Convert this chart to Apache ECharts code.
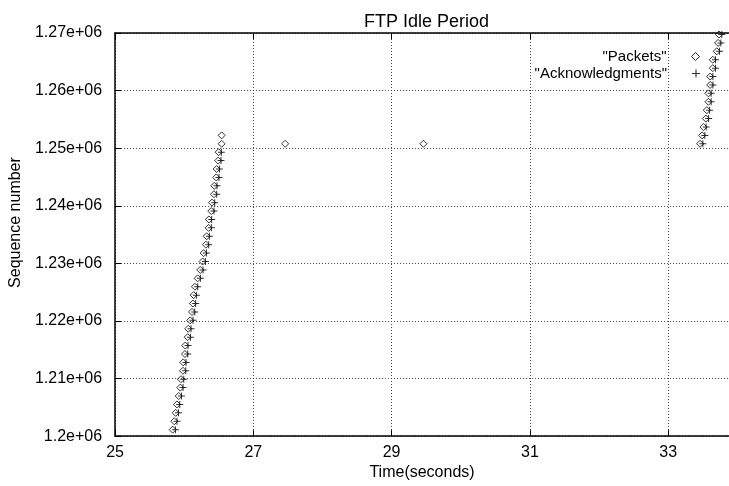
<!DOCTYPE html>
<html>
<head>
<meta charset="utf-8">
<script src="https://cdn.jsdelivr.net/npm/echarts@6/dist/echarts.min.js"></script>
<style>
html,body{margin:0;padding:0;background:#fff;}
#c{width:729px;height:486px;}
</style>
</head>
<body>
<div id="c"></div>
<script>
var titleText = 'FTP Idle Period';
var xName = 'Time(seconds)';
var yName = 'Sequence number';
var packetsName = '"Packets"';
var acksName = '"Acknowledgments"';

var xTicks = [25, 27, 29, 31, 33];
var yTicks = [1200000, 1210000, 1220000, 1230000, 1240000, 1250000, 1260000, 1270000];

// Packets: first burst
var pktTimeA = [25.833, 25.856, 25.877, 25.895, 25.920, 25.943, 25.953, 25.982, 25.986, 26.011,
  26.015, 26.050, 26.058, 26.087, 26.112, 26.126, 26.136, 26.155, 26.194, 26.232,
  26.266, 26.281, 26.314, 26.324, 26.353, 26.357, 26.391, 26.401, 26.430, 26.434,
  26.463, 26.469, 26.492, 26.497, 26.541, 26.541];
var pktSeqA = [1201120, 1202580, 1204040, 1205500, 1206960, 1208420, 1209880, 1211340, 1212800, 1214260,
  1215720, 1217180, 1218640, 1220100, 1221560, 1223020, 1224480, 1225940, 1227400, 1228860,
  1230320, 1231780, 1233240, 1234700, 1236160, 1237620, 1239080, 1240540, 1242000, 1243460,
  1244920, 1246380, 1247840, 1249300, 1250760, 1252220];
// Packets: retransmissions during idle period
var pktTimeR = [27.46, 29.46];
var pktSeqR = [1250760, 1250760];
// Packets: second burst
var pktTimeB = [33.462, 33.491, 33.510, 33.545, 33.559, 33.582, 33.582, 33.607, 33.607, 33.645,
  33.645, 33.703, 33.722, 33.736];
var pktSeqB = [1250760, 1252220, 1253680, 1255140, 1256600, 1258060, 1259520, 1260980, 1262440, 1263900,
  1265360, 1266820, 1268280, 1269740];

// Acknowledgments
var ackTimeA = [25.873, 25.896, 25.917, 25.935, 25.960, 25.983, 25.993, 26.022, 26.026, 26.051,
  26.055, 26.090, 26.098, 26.127, 26.152, 26.166, 26.176, 26.195, 26.234, 26.272,
  26.306, 26.321, 26.354, 26.364, 26.393, 26.397, 26.431, 26.441, 26.470, 26.474,
  26.503, 26.509, 26.532, 26.537];
var ackSeqA = [1201120, 1202580, 1204040, 1205500, 1206960, 1208420, 1209880, 1211340, 1212800, 1214260,
  1215720, 1217180, 1218640, 1220100, 1221560, 1223020, 1224480, 1225940, 1227400, 1228860,
  1230320, 1231780, 1233240, 1234700, 1236160, 1237620, 1239080, 1240540, 1242000, 1243460,
  1244920, 1246380, 1247840, 1249300];
var ackTimeB = [33.502, 33.531, 33.550, 33.585, 33.599, 33.622, 33.622, 33.647, 33.647, 33.685,
  33.685, 33.743, 33.762, 33.776];
var ackSeqB = [1250760, 1252220, 1253680, 1255140, 1256600, 1258060, 1259520, 1260980, 1262440, 1263900,
  1265360, 1266820, 1268280, 1269740];

function zip(a, b) { var r = []; for (var i = 0; i < a.length; i++) r.push([a[i], b[i]]); return r; }
var packets = zip(pktTimeA, pktSeqA).concat(zip(pktTimeR, pktSeqR)).concat(zip(pktTimeB, pktSeqB));
var acks = zip(ackTimeA, ackSeqA).concat(zip(ackTimeB, ackSeqB));

var FONT = 'Liberation Sans, Arial, Helvetica, sans-serif';
var plusPath = 'path://M3,0H4V3H7V4H4V7H3V4H0V3H3Z';

var chart = echarts.init(document.getElementById('c'), null, {renderer: 'canvas'});
var xMin = xTicks[0], xMax = 33.88;
var yMin = yTicks[0], yMax = yTicks[yTicks.length - 1];

function legendFor(name, top) {
  return {
    data: [name], orient: 'vertical', align: 'right', right: 29, top: top,
    padding: 0, itemWidth: 8, itemHeight: 8,
    itemStyle: {borderWidth: 1},
    textStyle: {fontFamily: FONT, fontSize: 15, color: '#000', padding: [0, 20, 0, 0]}
  };
}

chart.setOption({
  animation: false,
  backgroundColor: '#fff',
  title: {
    text: titleText, left: 359, top: 8,
    textStyle: {fontFamily: FONT, fontSize: 18, fontWeight: 'normal', color: '#000'}
  },
  grid: {left: 114, right: 0, top: 33, bottom: 41, containLabel: false},
  legend: [legendFor(packetsName, 49), legendFor(acksName, 66)],
  xAxis: [{
    type: 'value', min: xMin, max: xMax, interval: 2,
    name: xName, nameLocation: 'middle', nameGap: 24,
    nameTextStyle: {fontFamily: FONT, fontSize: 16, color: '#000'},
    axisLine: {show: true, lineStyle: {color: '#000', width: 1.5}},
    axisTick: {show: true, inside: true, length: 6, lineStyle: {color: '#000'}},
    axisLabel: {fontFamily: FONT, fontSize: 16, color: '#000', margin: 8, showMaxLabel: false,
      formatter: function (v) { return xTicks.indexOf(v) >= 0 ? String(v) : ''; }},
    splitLine: {show: true, lineStyle: {color: '#444', type: [1, 2], width: 1}}
  }, {
    type: 'value', min: xMin, max: xMax, interval: 2, position: 'top',
    axisLine: {show: true, lineStyle: {color: '#000', width: 1.5}},
    axisTick: {show: true, inside: true, length: 6, lineStyle: {color: '#000'}},
    axisLabel: {show: false}, splitLine: {show: false}
  }],
  yAxis: {
    type: 'value', min: yMin, max: yMax, interval: 10000,
    name: yName, nameLocation: 'middle', nameGap: 90,
    nameTextStyle: {fontFamily: FONT, fontSize: 16, color: '#000', padding: [0, 0, 0, 24]},
    axisLine: {show: true, lineStyle: {color: '#000', width: 1.5}},
    axisTick: {show: true, inside: true, length: 6, lineStyle: {color: '#000'}},
    axisLabel: {fontFamily: FONT, fontSize: 16, color: '#000', margin: 13,
      formatter: function (v) { return parseFloat((v / 1e6).toFixed(2)) + 'e+06'; }},
    splitLine: {show: true, lineStyle: {color: '#444', type: [1, 2], width: 1}}
  },
  series: [{
    name: packetsName, type: 'scatter', data: packets,
    symbol: 'diamond', symbolSize: 7,
    itemStyle: {color: 'rgba(255,255,255,0)', borderColor: '#000', borderWidth: 1}
  }, {
    name: acksName, type: 'scatter', data: acks,
    symbol: plusPath, symbolSize: 7,
    itemStyle: {color: '#000', borderWidth: 0}
  }]
});
</script>
</body>
</html>
